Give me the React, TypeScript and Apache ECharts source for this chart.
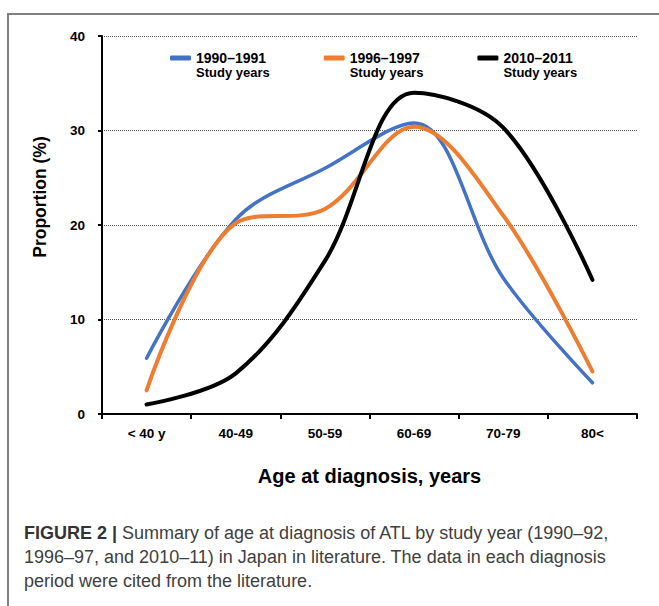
import React, { useEffect, useRef } from "react";
import * as echarts from "echarts";

const categories = ["< 40 y", "40-49", "50-59", "60-69", "70-79", "80<"];
const seriesNames = ["1990–1991", "1996–1997", "2010–2011"];
const values1990 = [5.9, 20.6, 26.0, 30.8, 14.4, 3.3];
const values1996 = [2.5, 20.2, 21.7, 30.4, 21.0, 4.5];
const values2010 = [1.0, 4.3, 16.2, 34.0, 30.3, 14.2];
const seriesColors = ["#4472C4", "#ED7D31", "#000000"];
const yTicks = [0, 10, 20, 30, 40];
const yAxisTitle = "Proportion (%)";
const xAxisTitle = "Age at diagnosis, years";

const captionLines = [
  "{b|FIGURE 2 |} Summary of age at diagnosis of ATL by study year (1990–92,",
  "1996–97, and 2010–11) in Japan in literature. The data in each diagnosis",
  "period were cited from the literature.",
];

const FONT = "'Liberation Sans', Arial, Helvetica, sans-serif";

export default function App() {
  const ref = useRef<HTMLDivElement>(null);
  useEffect(() => {
    if (!ref.current) return;
    const chart = echarts.init(ref.current, undefined, { renderer: "svg" });
    const allValues = [values1990, values1996, values2010];
    chart.setOption({
      animation: false,
      backgroundColor: "#ffffff",
      textStyle: { fontFamily: FONT },
      title: {
        text: captionLines.join("\n"),
        left: 24,
        top: 521,
        padding: 0,
        textStyle: {
          fontFamily: FONT,
          fontSize: 18,
          fontWeight: "normal",
          color: "#404040",
          lineHeight: 24,
          rich: {
            b: { fontFamily: FONT, fontSize: 18, fontWeight: "bold", color: "#333", lineHeight: 24 },
          },
        },
      },
      graphic: [
        {
          type: "rect",
          shape: { x: 8, y: 14, width: 700, height: 700 },
          style: { fill: "none", stroke: "#7f7f7f", lineWidth: 2 },
          silent: true,
          z: -1,
        },
        {
          type: "text",
          x: 40,
          y: 197,
          rotation: Math.PI / 2,
          style: {
            text: yAxisTitle,
            align: "center",
            verticalAlign: "middle",
            fontFamily: FONT,
            fontSize: 17.5,
            fontWeight: "bold",
            fill: "#000",
          },
        },
      ],
      legend: {
        left: 170,
        top: 38,
        padding: 0,
        itemGap: 54,
        itemWidth: 21,
        itemHeight: 5,
        icon: "roundRect",
        data: seriesNames,
        formatter: (name: string) => `{e| }\n{a|${name}}\n{s|Study years}`,
        textStyle: {
          fontFamily: FONT,
          rich: {
            e: { fontSize: 12, lineHeight: 14 },
            a: { fontFamily: FONT, fontSize: 14, fontWeight: "bold", color: "#000", lineHeight: 14 },
            s: { fontFamily: FONT, fontSize: 13, fontWeight: "bold", color: "#000", lineHeight: 14 },
          },
        },
      },
      grid: { left: 102, right: 22, top: 36, bottom: 192, containLabel: false },
      xAxis: {
        type: "category",
        data: categories,
        boundaryGap: true,
        name: xAxisTitle,
        nameLocation: "middle",
        nameGap: 52,
        nameTextStyle: { fontFamily: FONT, fontSize: 20, fontWeight: "bold", color: "#000" },
        axisLine: { lineStyle: { color: "#000", width: 2 } },
        axisTick: { show: true, length: 5, lineStyle: { color: "#000", width: 2 } },
        axisLabel: { fontFamily: FONT, fontSize: 13.5, fontWeight: "bold", color: "#000", margin: 12 },
      },
      yAxis: {
        type: "value",
        min: 0,
        max: 40,
        interval: 10,
        axisLine: { show: true, lineStyle: { color: "#000", width: 2 } },
        axisTick: { show: true, length: 4, lineStyle: { color: "#000", width: 2 } },
        axisLabel: {
          fontFamily: FONT,
          fontSize: 13.5,
          fontWeight: "bold",
          color: "#000",
          margin: 17,
          formatter: (v: number) => (yTicks.includes(v) ? String(v) : ""),
        },
        splitLine: { show: true, lineStyle: { color: "#555", width: 1, type: [1, 1] } },
      },
      series: seriesNames.map((name, i) => ({
        name,
        type: "line",
        data: allValues[i],
        smooth: 0.35,
        symbol: "none",
        color: seriesColors[i],
        lineStyle: { color: seriesColors[i], width: i === 0 ? 3.5 : 4, cap: "round", join: "round" },
      })),
    });
    return () => chart.dispose();
  }, []);
  return (
    <div
      ref={ref}
      style={{ position: "fixed", left: 0, top: 0, width: 659, height: 606, background: "#fff" }}
    />
  );
}
